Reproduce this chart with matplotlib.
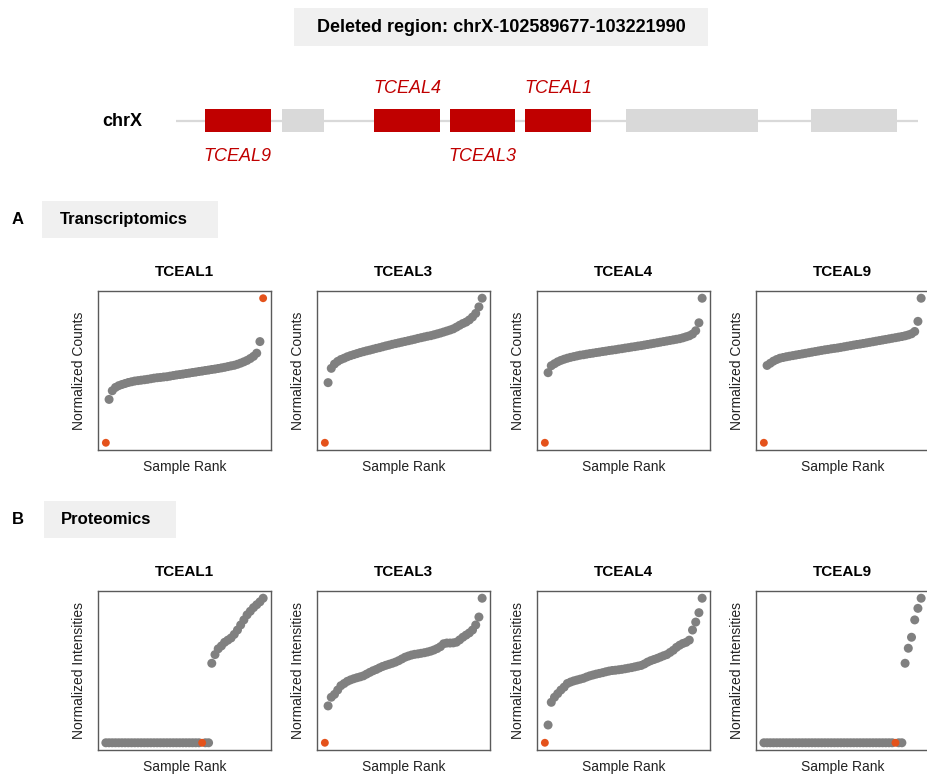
import matplotlib
matplotlib.use("Agg")
import matplotlib.pyplot as plt
from matplotlib.patches import Rectangle

plt.rcParams['font.family'] = ['Liberation Sans', 'DejaVu Sans']

# ---------------------------------------------------------------- data
region_title = "Deleted region: chrX-102589677-103221990"
chromosome = "chrX"

# gene track (window units from the left end of the drawn chromosome segment)
track_length = 742
block_start = [29, 106.3, 198.3, 274, 349.3, 450.3, 634.7]
block_end = [94.7, 147.7, 264, 339.5, 414.7, 582, 721.3]
block_gene = ["TCEAL9", "", "TCEAL4", "TCEAL3", "TCEAL1", "", ""]
block_deleted = [True, False, True, True, True, False, False]
label_side = ["below", "", "above", "below", "above", "", ""]

panel_genes = ["TCEAL1", "TCEAL3", "TCEAL4", "TCEAL9"]

# rank-ordered expression (scaled 0-100) per gene
rna_tceal1 = [0, 30, 36, 38.3, 39.5, 40.3, 41, 41.7, 42.2, 42.7, 43.0, 43.3,
              43.6, 43.9, 44.3, 44.7, 45.0, 45.2, 45.5, 45.7, 46.1, 46.5, 46.9,
              47.2, 47.5, 47.9, 48.2, 48.6, 48.9, 49.3, 49.6, 50.0, 50.3, 50.7,
              51.0, 51.4, 51.8, 52.2, 52.7, 53.2, 53.6, 54.3, 55.1, 56.0, 57.0,
              58.3, 59.8, 62.0, 70, 100]
rna_tceal3 = [0, 41.6, 51.5, 54.5, 56.3, 57.6, 58.5, 59.5, 60.3, 61, 61.7,
              62.4, 63, 63.6, 64.1, 64.7, 65.3, 65.8, 66.4, 67, 67.5, 68.1, 68.6,
              69.1, 69.6, 70.1, 70.6, 71.1, 71.6, 72.2, 72.7, 73.2, 73.7, 74.1,
              74.7, 75.3, 75.9, 76.6, 77.3, 78, 78.8, 80, 81.3, 82.5, 83.5, 85,
              87, 89.5, 94, 100]
rna_tceal4 = [0, 48.5, 53.3, 54.7, 56, 57, 57.8, 58.5, 59.1, 59.6, 60.1, 60.6,
              60.9, 61.3, 61.7, 62, 62.4, 62.7, 63.1, 63.4, 63.8, 64.1, 64.4,
              64.8, 65.1, 65.5, 65.8, 66.2, 66.5, 66.9, 67.2, 67.6, 68, 68.4,
              68.8, 69.2, 69.6, 70, 70.4, 70.8, 71.2, 71.6, 72, 72.6, 73.3, 74,
              75.2, 77.5, 83, 100]
rna_tceal9 = [0, 53.5, 55, 56.5, 57.6, 58.5, 59, 59.5, 59.9, 60.3, 60.7, 61.1,
              61.5, 61.9, 62.3, 62.7, 63.1, 63.5, 63.9, 64.3, 64.6, 65, 65.3,
              65.6, 66, 66.4, 66.8, 67.2, 67.6, 68, 68.3, 68.7, 69.1, 69.5, 69.9,
              70.3, 70.7, 71.1, 71.5, 71.9, 72.3, 72.7, 73.1, 73.5, 74, 74.6,
              75.4, 77, 84, 100]

# rank-ordered protein intensities (scaled 0-100); 0 = not detected
prot_tceal1 = [0, 0, 0, 0, 0, 0, 0, 0, 0, 0, 0, 0, 0, 0, 0, 0, 0, 0, 0, 0, 0,
               0, 0, 0, 0, 0, 0, 0, 0, 0, 0, 0, 0,
               55, 61, 65, 67, 69.5, 71, 72.5, 75, 78, 81.5, 85, 88.5, 91, 93.5,
               95.5, 97.5, 100]
prot_tceal3 = [0, 25.5, 31.5, 33.5, 36.5, 39.5, 41, 42.5, 43.5, 44.3, 45, 45.6,
               46.3, 47.5, 48.7, 49.8, 50.7, 51.8, 52.8, 53.6, 54.3, 55, 55.8,
               56.8, 58, 59.2, 60, 60.7, 61.2, 61.5, 61.9, 62.3, 62.8, 63.4, 64.2,
               65.2, 66.5, 68.5, 69, 69, 69.1, 69.6, 71.2, 73, 74.5, 76, 78, 81.5,
               87, 100]
prot_tceal4 = [0, 12.3, 28, 31.5, 34, 36.5, 38.5, 41, 42, 42.8, 43.4, 44, 44.6,
               45.5, 46.3, 46.9, 47.5, 48, 48.5, 49.1, 49.6, 50, 50.2, 50.5, 50.8,
               51.2, 51.6, 52, 52.5, 53, 53.5, 54.5, 55.8, 56.8, 57.6, 58.4, 59.3,
               60.2, 61, 62.5, 64, 66, 67.5, 68.7, 69.5, 71, 78, 83.5, 90, 100]
prot_tceal9 = [0, 0, 0, 0, 0, 0, 0, 0, 0, 0, 0, 0, 0, 0, 0, 0, 0, 0, 0, 0, 0,
               0, 0, 0, 0, 0, 0, 0, 0, 0, 0, 0, 0, 0, 0, 0, 0, 0, 0, 0, 0, 0, 0,
               0, 55, 65.4, 73, 85, 93, 100]

rna_values = [rna_tceal1, rna_tceal3, rna_tceal4, rna_tceal9]
prot_values = [prot_tceal1, prot_tceal3, prot_tceal4, prot_tceal9]

# rank of the deleted sample (index into each ranked list)
rna_highlight = [[0, 49], [0], [0], [0]]
prot_highlight = [[30], [0], [0], [41]]

# ---------------------------------------------------------------- styling
W, H = 928, 775
RED = "#C00000"
LIGHT = "#D9D9D9"
BOX_BG = "#F0F0F0"
GREY_PT = "#808080"
ORANGE = "#E4521B"

fig = plt.figure(figsize=(W / 100, H / 100), dpi=100)
canvas = fig.add_axes([0, 0, 1, 1])
canvas.set_xlim(0, W)
canvas.set_ylim(H, 0)
canvas.axis("off")

# header
canvas.add_patch(Rectangle((294, 7.5), 414, 38.5, fc=BOX_BG, ec="none"))
canvas.text(501, 27, region_title, ha="center", va="center",
            fontsize=13, fontweight="bold")

# chromosome track
track_x0, track_y = 176, 120.7
canvas.text(102.7, 121.7, chromosome, ha="left", va="center",
            fontsize=13, fontweight="bold")
canvas.plot([track_x0, track_x0 + track_length], [track_y, track_y],
            color=LIGHT, lw=1.6, solid_capstyle="butt", zorder=1)
for s, e, g, d, side in zip(block_start, block_end, block_gene,
                            block_deleted, label_side):
    canvas.add_patch(Rectangle((track_x0 + s, 109.3), e - s, 22.9,
                               fc=RED if d else LIGHT, ec="none", zorder=2))
    if g:
        ly = 88.3 if side == "above" else 156.7
        canvas.text(track_x0 + (s + e) / 2, ly, g, ha="center", va="center",
                    fontsize=13, fontstyle="italic", color=RED)

# section headers
sections = [("A", "Transcriptomics", 42.5, 200.5, 175.8, 219.3),
            ("B", "Proteomics", 44, 500.7, 132, 519.3)]
for letter, name, bx, by, bw, ty in sections:
    canvas.add_patch(Rectangle((bx, by), bw, 37.7, fc=BOX_BG, ec="none"))
    canvas.text(bx + 17, ty, name, ha="left", va="center",
                fontsize=12, fontweight="bold")
    canvas.text(17.5, ty, letter, ha="center", va="center",
                fontsize=12, fontweight="bold")

# scatter panels
lefts = [98, 317, 537, 756]
pw, ph = 173, 159
rows = [(291, rna_values, rna_highlight, "Normalized Counts"),
        (591, prot_values, prot_highlight, "Normalized Intensities")]

for top, values, highlights, ylab in rows:
    for left, gene, vals, hl in zip(lefts, panel_genes, values, highlights):
        ax = fig.add_axes([left / W, 1 - (top + ph) / H, pw / W, ph / H])
        ranks = list(range(1, len(vals) + 1))
        gx = [r for i, r in enumerate(ranks) if i not in hl]
        gy = [v for i, v in enumerate(vals) if i not in hl]
        ox = [ranks[i] for i in hl]
        oy = [vals[i] for i in hl]
        ax.scatter(gx, gy, s=42, color=GREY_PT, edgecolors="none", zorder=2)
        ax.scatter(ox, oy, s=32, color=ORANGE, edgecolors="none", zorder=3)
        xr = ranks[-1] - ranks[0]
        yr = max(vals) - min(vals)
        ax.set_xlim(ranks[0] - 0.05 * xr, ranks[-1] + 0.05 * xr)
        ax.set_ylim(min(vals) - 0.05 * yr, max(vals) + 0.05 * yr)
        ax.set_xticks([])
        ax.set_yticks([])
        for sp in ax.spines.values():
            sp.set_color("#5A5A5A")
            sp.set_linewidth(1.0)
        ax.text(0.5, 1 + 19 / ph, gene, transform=ax.transAxes,
                ha="center", va="center", fontsize=11, fontweight="bold")
        ax.text(0.5, -16.7 / ph, "Sample Rank", transform=ax.transAxes,
                ha="center", va="center", fontsize=10, color="#222222")
        ax.text(-19 / pw, 0.5, ylab, transform=ax.transAxes, rotation=90,
                ha="center", va="center", fontsize=10, color="#222222")

fig.savefig("out.png", dpi=100)
